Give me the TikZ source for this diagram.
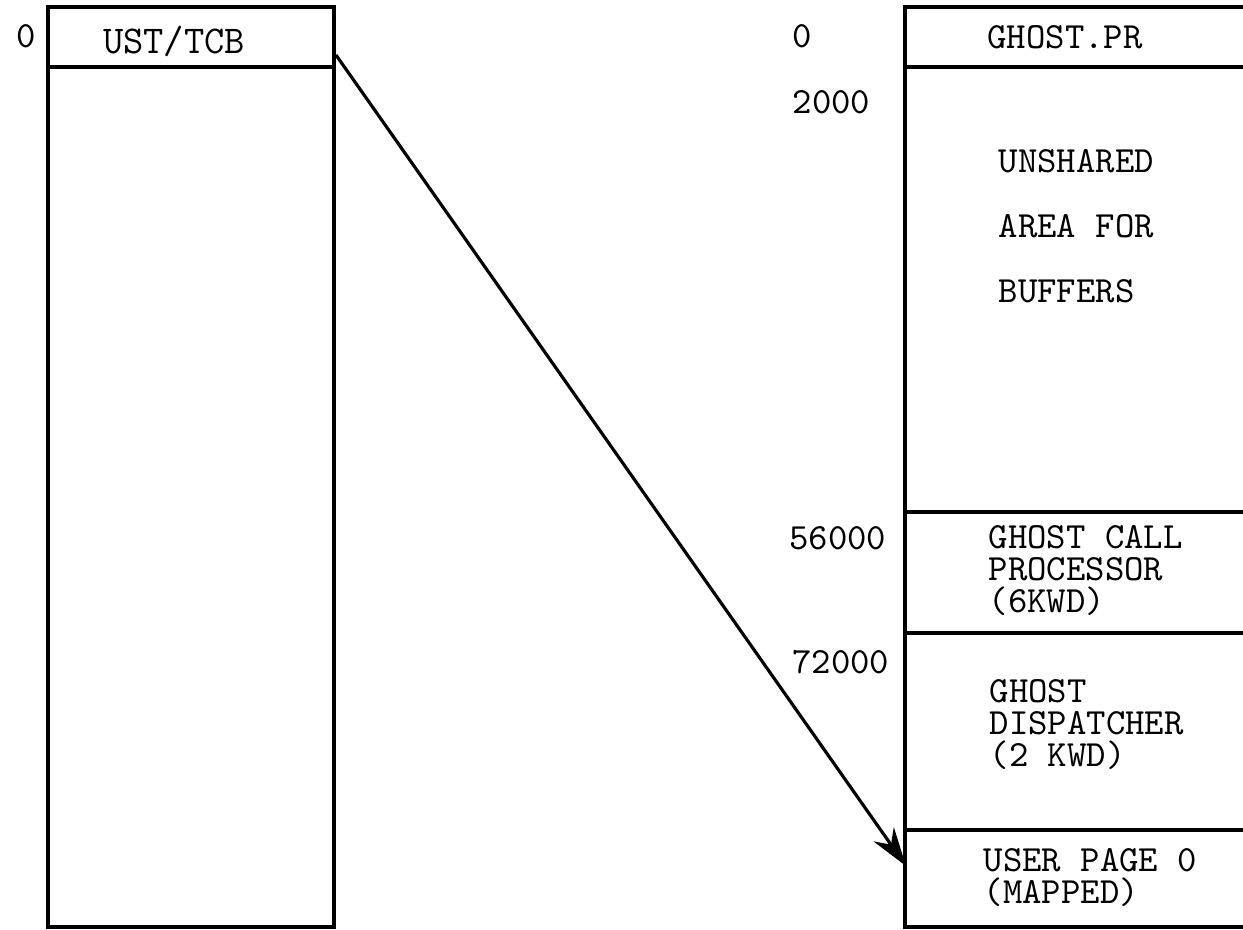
\documentclass[tikz,border=0pt]{standalone}
\usepackage{tikz}
\usetikzlibrary{arrows.meta,positioning}

\begin{document}
\begin{tikzpicture}[
  x=0.01cm, y=-0.01cm,
  wall/.style={line width=1.2pt},
  lbl/.style={anchor=base west, inner sep=0pt, align=left, font=\ttfamily\fontsize{10.5}{9}\selectfont},
  addr/.style={anchor=base east, inner sep=0pt, font=\ttfamily\fontsize{10.5}{12}\selectfont},
  arrow/.style={->, >={Stealth[length=11pt, width=7pt]}, line width=0.9pt}
]
  \useasboundingbox (0,0) rectangle (1243,929);

  % left block
  \draw[wall] (48,7) rectangle (334,927);
  \draw[wall] (48,67) -- (334,67);
  \node[addr] (lzero) at (37,47) {0};
  \node[lbl, anchor=base, font=\ttfamily\fontsize{11.2}{12}\selectfont] (ust) at (174,53) {UST/TCB};

  % right block, open on the right
  \draw[wall] (1243,7) -- (905,7) -- (905,927) -- (1243,927);
  \foreach \yy in {67,512,633,830}
    \draw[wall] (905,\yy) -- (1243,\yy);

  \node[lbl] (rzero) at (792,47) {0};
  \node[lbl] (a2000) at (792,113) {2000};
  \node[addr] (a56000) at (887,549) {56000};
  \node[addr] (a72000) at (890,673) {72000};

  % multi-line texts sit on their last baseline
  \node[lbl, anchor=base] (gpr) at (1065,48) {GHOST.PR};
  \node[lbl, font=\ttfamily\fontsize{10.5}{18.4}\selectfont] (buf) at (998,302) {UNSHARED\\AREA FOR\\BUFFERS};
  \node[lbl] (gcp) at (988,612) {GHOST CALL\\PROCESSOR\\(6KWD)};
  \node[lbl] (gdisp) at (989,766) {GHOST\\DISPATCHER\\(2 KWD)};
  \node[lbl] (upage) at (983,903) {USER PAGE 0\\(MAPPED)};

  % mapping of the TCB into user page 0
  \coordinate (tcb) at (336,55);
  \coordinate (pzero) at (906,866);
  \draw[arrow] (tcb) -- (pzero);
\end{tikzpicture}
\end{document}
